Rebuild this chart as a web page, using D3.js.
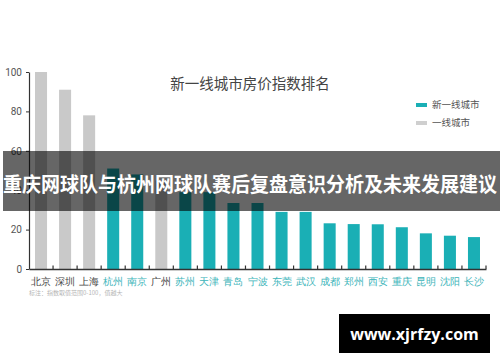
<!DOCTYPE html>
<html lang="zh">
<head>
<meta charset="UTF-8">
<title>新一线城市房价指数排名</title>
<style>
  html, body { margin: 0; padding: 0; background: #fff; }
  body { width: 500px; height: 362px; overflow: hidden; font-family: "Noto Sans CJK SC", "Noto Sans", sans-serif; }
</style>
</head>
<body>
<div id="chart"></div>
<script src="https://cdn.jsdelivr.net/npm/d3@7/dist/d3.min.js"></script>
<script>
// data
var cities = ["北京", "深圳", "上海", "杭州", "南京", "广州", "苏州", "天津", "青岛", "宁波",
              "东莞", "武汉", "成都", "郑州", "西安", "重庆", "昆明", "沈阳", "长沙"];
var indexValues = [100, 91, 78, 51, 48, 45, 39, 39, 33.5, 33.5,
                   29, 29, 23.2, 22.8, 22.7, 21.2, 18.1, 16.9, 16.2];
// 1 = 一线城市, 0 = 新一线城市
var tier = [1, 1, 1, 0, 0, 1, 0, 0, 0, 0, 0, 0, 0, 0, 0, 0, 0, 0, 0];
var legendLabels = ["新一线城市", "一线城市"];
var yTicks = [0, 20, 40, 60, 80, 100];

var teal = "#1aafb5", grey = "#c9c9c9";

var width = 500, height = 362;
var margin = {top: 72, right: 14, bottom: 93, left: 29};

var svg = d3.select("#chart").append("svg")
    .attr("width", width)
    .attr("height", height);

var x = d3.scaleBand()
    .domain(cities)
    .range([margin.left, width - margin.right])
    .paddingInner(0.5)
    .paddingOuter(0.25);

var y = d3.scaleLinear()
    .domain([0, 100])
    .range([height - margin.bottom, margin.top]);

// title
svg.append("text")
    .attr("x", 250)
    .attr("y", 89)
    .attr("text-anchor", "middle")
    .style("font-size", "14.5px")
    .style("fill", "#444")
    .text("新一线城市房价指数排名");

// legend
var legend = svg.selectAll(".legend")
    .data(legendLabels)
    .enter().append("g")
    .attr("transform", function(d, i) { return "translate(416," + (103 + i * 18) + ")"; });
legend.append("rect")
    .attr("width", 11).attr("height", 4)
    .attr("fill", function(d, i) { return i === 0 ? teal : "#cfcfcf"; });
legend.append("text")
    .attr("x", 16).attr("y", 2)
    .attr("dy", "0.35em")
    .style("font-size", "9.5px")
    .style("fill", "#555")
    .text(function(d) { return d; });

// bars
svg.selectAll(".bar")
    .data(cities)
    .enter().append("rect")
    .attr("x", function(d) { return x(d); })
    .attr("width", x.bandwidth())
    .attr("y", function(d, i) { return y(indexValues[i]); })
    .attr("height", function(d, i) { return y(0) - y(indexValues[i]); })
    .attr("fill", function(d, i) { return tier[i] ? grey : teal; });

// y axis
var yAxis = svg.append("g")
    .attr("transform", "translate(" + margin.left + ",0)")
    .call(d3.axisLeft(y).tickValues(yTicks).tickSize(3).tickPadding(4).tickSizeOuter(0));
yAxis.select(".domain").attr("stroke", "#333").attr("stroke-width", 1.2);
yAxis.selectAll(".tick line").attr("stroke", "#333");
yAxis.selectAll(".tick text")
    .style("font-size", "10px")
    .style("fill", "#555")
    .style("font-family", "Roboto, 'Noto Sans', sans-serif");

// x axis
var xAxis = svg.append("g")
    .attr("transform", "translate(0," + y(0) + ")")
    .call(d3.axisBottom(x).tickSize(0).tickPadding(9).tickSizeOuter(0));
xAxis.select(".domain").attr("stroke", "#333").attr("stroke-width", 1.5);
xAxis.selectAll(".tick text")
    .style("font-size", "10px")
    .style("fill", function(d, i) { return tier[i] ? "#444" : "#3bb4b9"; });

// small upward ticks between the bars
var step = x.step();
svg.append("g").selectAll("line")
    .data(cities)
    .enter().append("line")
    .attr("x1", function(d) { return x(d) + x.bandwidth() + (step - x.bandwidth()) / 2; })
    .attr("x2", function(d) { return x(d) + x.bandwidth() + (step - x.bandwidth()) / 2; })
    .attr("y1", y(0))
    .attr("y2", y(0) - 3.5)
    .attr("stroke", "#333")
    .attr("stroke-width", 1.2);

// footnote
svg.append("text")
    .attr("x", 29)
    .attr("y", 295)
    .style("font-size", "6px")
    .style("fill", "#b5b5b5")
    .text("标注：指数取值范围0-100，值越大");

// banner overlay
svg.append("rect")
    .attr("x", 3).attr("y", 151)
    .attr("width", 497).attr("height", 60)
    .attr("fill", "#000")
    .attr("fill-opacity", 0.6);
svg.append("text")
    .attr("x", 250)
    .attr("y", 185)
    .attr("dy", "0.35em")
    .attr("text-anchor", "middle")
    .attr("textLength", 494)
    .attr("lengthAdjust", "spacingAndGlyphs")
    .style("font-size", "20px")
    .style("font-weight", "bold")
    .style("fill", "#fff")
    .text("重庆网球队与杭州网球队赛后复盘意识分析及未来发展建议");

// watermark
svg.append("rect")
    .attr("x", 339).attr("y", 314)
    .attr("width", 151).attr("height", 39)
    .attr("fill", "#000");
svg.append("text")
    .attr("x", 414.5)
    .attr("y", 334)
    .attr("dy", "0.35em")
    .attr("text-anchor", "middle")
    .style("font-size", "16px")
    .style("font-weight", "bold")
    .style("font-family", "'Open Sans', 'DejaVu Sans', sans-serif")
    .style("fill", "#fff")
    .text("www.xjrfzy.com");
</script>
</body>
</html>
